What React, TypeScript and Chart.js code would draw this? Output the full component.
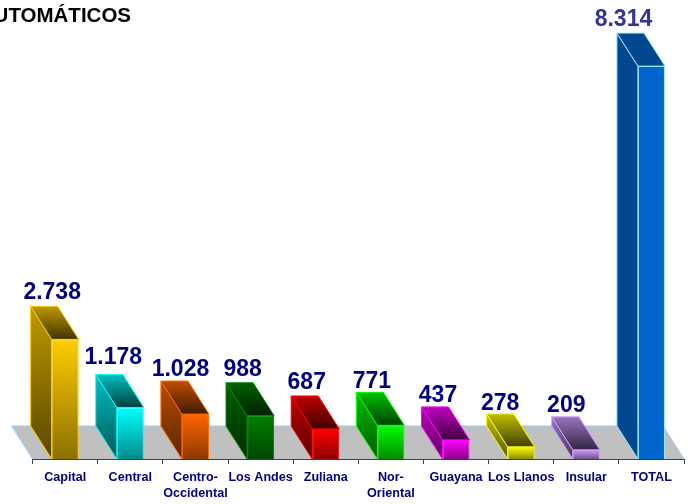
import React, { useEffect, useRef } from "react";
import { Chart, registerables } from "chart.js";

Chart.register(...registerables);

const categories: (string | string[])[] = ["Capital", "Central", ["Centro-", "Occidental"], "Los Andes", "Zuliana", ["Nor-", "Oriental"], "Guayana", "Los Llanos", "Insular", "TOTAL"];
// Printed figures, as shown above each column.
const valueLabels = ["2.738", "1.178", "1.028", "988", "687", "771", "437", "278", "209", "8.314"];
// Column heights (the TOTAL column is drawn taller than its printed figure).
const columnValues = [2738, 1178, 1028, 988, 687, 771, 437, 278, 209, 8990];
const frontColors = ["#FFCC00", "#00FFFF", "#FF6600", "#008000", "#FF0000", "#00FF00", "#FF00FF", "#FFFF00", "#CC99FF", "#0066CC"];
const chartTitle = "CAJEROS AUTOMÁTICOS";

const DX = -21;
const DY = -33;
const labelNudgeX = [-13, -17, -15, -18, -19, -19, -18, -21, -20, -28];
const labelNudgeY = [-7, -11, -5, -7, -7, -4, -5, -4, -5, -7];

function shade(hex: string, f: number) {
  const n = parseInt(hex.slice(1), 16);
  return `rgb(${((n >> 16) & 255) * f},${((n >> 8) & 255) * f},${(n & 255) * f})`;
}

const faces3d = {
  id: "faces3d",
  beforeDatasetsDraw(chart: any) {
    const { ctx, scales } = chart;
    const xs = scales.x;
    const base = scales.y.getPixelForValue(0);
    ctx.save();
    ctx.beginPath();
    ctx.moveTo(xs.left, base);
    ctx.lineTo(xs.left + DX, base + DY);
    ctx.lineTo(xs.right + DX, base + DY);
    ctx.lineTo(xs.right, base);
    ctx.closePath();
    ctx.fillStyle = "#C0C0C0";
    ctx.fill();
    ctx.beginPath();
    ctx.moveTo(xs.left, base);
    ctx.lineTo(xs.left + DX, base + DY);
    ctx.lineTo(xs.right + DX, base + DY);
    ctx.lineTo(xs.right, base);
    ctx.strokeStyle = "#99CCFF";
    ctx.lineWidth = 1;
    ctx.stroke();

    chart.getDatasetMeta(0).data.forEach((bar: any, i: number) => {
      const c = frontColors[i];
      const solid = i === frontColors.length - 1;
      const stroke = solid ? "#99E6FF" : c;
      const l = bar.x - bar.width / 2;
      const r = bar.x + bar.width / 2;
      const t = bar.y;
      ctx.lineJoin = "round";
      ctx.lineWidth = 1;
      ctx.strokeStyle = stroke;
      const sg = ctx.createLinearGradient(0, t + DY, 0, base);
      sg.addColorStop(0, shade(c, solid ? 0.7 : 0.75));
      sg.addColorStop(1, shade(c, solid ? 0.7 : 0.35));
      ctx.beginPath();
      ctx.moveTo(l, t);
      ctx.lineTo(l + DX, t + DY);
      ctx.lineTo(l + DX, base + DY);
      ctx.lineTo(l, base);
      ctx.closePath();
      ctx.fillStyle = sg;
      ctx.fill();
      ctx.stroke();
      const tg = ctx.createLinearGradient(0, t + DY, 0, t);
      tg.addColorStop(0, shade(c, solid ? 0.7 : 0.75));
      tg.addColorStop(1, shade(c, solid ? 0.7 : 0.25));
      ctx.beginPath();
      ctx.moveTo(l, t);
      ctx.lineTo(l + DX, t + DY);
      ctx.lineTo(r + DX, t + DY);
      ctx.lineTo(r, t);
      ctx.closePath();
      ctx.fillStyle = tg;
      ctx.fill();
      ctx.stroke();
    });
    ctx.restore();
  },
  afterDatasetsDraw(chart: any) {
    const { ctx } = chart;
    ctx.save();
    ctx.textAlign = "center";
    ctx.textBaseline = "alphabetic";
    ctx.font = "bold 23px 'Liberation Sans'";
    chart.getDatasetMeta(0).data.forEach((bar: any, i: number) => {
      ctx.fillStyle = i === valueLabels.length - 1 ? "#333399" : "#000080";
      ctx.fillText(valueLabels[i], bar.x + labelNudgeX[i], bar.y + DY + labelNudgeY[i]);
    });
    ctx.restore();
    ctx.save();
    ctx.fillStyle = "#000000";
    ctx.font = "bold 20.5px 'Liberation Sans'";
    ctx.textAlign = "right";
    ctx.textBaseline = "alphabetic";
    ctx.fillText(chartTitle, 131, 22);
    ctx.restore();
  },
};

export default function App() {
  const ref = useRef<HTMLCanvasElement>(null);
  useEffect(() => {
    const chart = new Chart(ref.current!, {
      type: "bar",
      data: {
        labels: categories,
        datasets: [
          {
            data: columnValues,
            barPercentage: 0.415,
            categoryPercentage: 1,
            borderWidth: 1,
            borderColor: (c: any) => (c.dataIndex === frontColors.length - 1 ? "#99E6FF" : frontColors[c.dataIndex]),
            backgroundColor: (c: any) => {
              const col = frontColors[c.dataIndex];
              const { chart: ch, dataIndex } = c;
              if (!ch.chartArea || dataIndex === frontColors.length - 1) return col;
              const y = ch.scales.y;
              const g = ch.ctx.createLinearGradient(0, y.getPixelForValue(columnValues[dataIndex]), 0, y.getPixelForValue(0));
              g.addColorStop(0, col);
              g.addColorStop(1, shade(col, 0.55));
              return g;
            },
          },
        ],
      },
      options: {
        responsive: false,
        animation: false,
        layout: { padding: { left: 32.6, right: 10, top: 34, bottom: 0 } },
        plugins: { legend: { display: false }, tooltip: { enabled: false }, title: { display: false } },
        scales: {
          y: { display: false, min: 0, max: 9725 },
          x: {
            offset: true,
            afterFit: (s: any) => {
              s.height = 45;
            },
            border: { display: true, color: "#404040", width: 1 },
            grid: { offset: true, drawOnChartArea: false, drawTicks: true, tickLength: 5, color: "#404040" },
            ticks: {
              maxRotation: 0,
              autoSkip: false,
              padding: 6,
              color: "#000080",
              font: { family: "'Liberation Sans'", size: 12.6, weight: "bold", lineHeight: 1.27 },
            },
          },
        },
      },
      plugins: [faces3d],
    } as any);
    return () => chart.destroy();
  }, []);
  return (
    <div style={{ position: "absolute", left: 0, top: 0, width: 694, height: 504, background: "#fff" }}>
      <canvas ref={ref} width={694} height={504} style={{ display: "block" }} />
    </div>
  );
}
